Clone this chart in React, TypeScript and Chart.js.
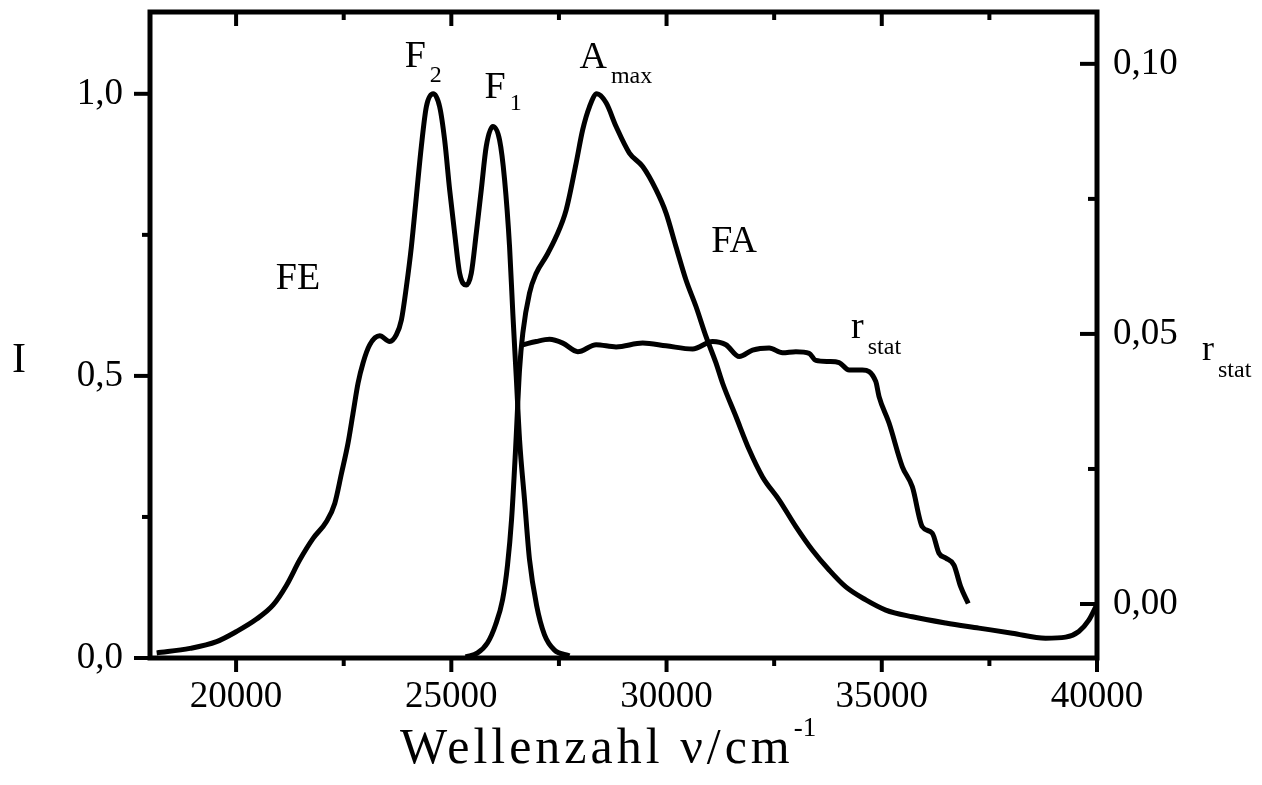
import { useEffect, useRef } from 'react';
import { Chart, registerables } from 'chart.js';

Chart.register(...registerables);

const SERIF = "'Liberation Serif', 'Times New Roman', serif";
const WIDTH = 1262;
const HEIGHT = 785;

// Fluorescence emission spectrum FE (left axis, normalised)
const feWavenumber = [
  18155, 18928, 19548, 20012, 20476, 20861, 21172, 21480, 21789, 22100,
  22292, 22448, 22601, 22717, 22833, 22949, 23104, 23336, 23568, 23724,
  23840, 23956, 24072, 24188, 24304, 24420, 24580, 24729, 24845, 24961,
  25077, 25193, 25348, 25464, 25580, 25696, 25812, 25965, 26121, 26237,
  26353, 26429, 26508, 26585, 26701, 26817, 26979, 27165, 27397, 27745,
];
const feIntensity = [
  0.009, 0.017, 0.029, 0.047, 0.069, 0.094, 0.129, 0.174, 0.212, 0.242,
  0.274, 0.327, 0.381, 0.434, 0.487, 0.523, 0.555, 0.571, 0.561, 0.573,
  0.599, 0.658, 0.729, 0.818, 0.907, 0.977, 1.0, 0.977, 0.918, 0.83,
  0.753, 0.682, 0.661, 0.682, 0.753, 0.83, 0.907, 0.942, 0.918, 0.848,
  0.729, 0.611, 0.499, 0.387, 0.28, 0.174, 0.094, 0.041, 0.014, 0.004,
];

// Absorption spectrum FA (left axis, normalised)
const faWavenumber = [
  25332, 25610, 25842, 26028, 26190, 26306, 26399, 26492, 26585, 26661,
  26817, 26972, 27204, 27436, 27667, 27899, 28051, 28209, 28380, 28596,
  28828, 29137, 29446, 29755, 29987, 30219, 30452, 30684, 30916, 31148,
  31302, 31612, 31921, 32230, 32617, 33004, 33390, 33777, 34165, 34629,
  35093, 35711, 36485, 37258, 38031, 38806, 39270, 39578, 39810, 40000,
];
const faIntensity = [
  0.002, 0.009, 0.027, 0.059, 0.103, 0.165, 0.245, 0.369, 0.511, 0.576,
  0.647, 0.682, 0.712, 0.747, 0.794, 0.877, 0.936, 0.977, 1.0, 0.984,
  0.942, 0.895, 0.871, 0.83, 0.789, 0.729, 0.67, 0.623, 0.57, 0.523,
  0.487, 0.428, 0.369, 0.321, 0.28, 0.233, 0.191, 0.156, 0.126, 0.103,
  0.085, 0.073, 0.062, 0.053, 0.044, 0.035, 0.037, 0.047, 0.067, 0.095,
];

// Stationary anisotropy r_stat (right axis)
const rWavenumber = [
  26661, 26972, 27281, 27590, 27938, 28364, 28828, 29446, 29987, 30606,
  31070, 31380, 31689, 31998, 32385, 32694, 33004, 33313, 33468, 33777,
  34009, 34241, 34550, 34860, 34937, 35169, 35478, 35710, 35942, 36174,
  36329, 36485, 36677, 36833, 37009,
];
const rValue = [
  0.048, 0.0486, 0.049, 0.0483, 0.0467, 0.048, 0.0476, 0.0483, 0.0478, 0.0472,
  0.0486, 0.048, 0.0458, 0.047, 0.0474, 0.0465, 0.0467, 0.0464, 0.0451, 0.0449,
  0.0447, 0.0433, 0.0433, 0.0412, 0.0384, 0.0335, 0.0254, 0.0217, 0.0143, 0.0131,
  0.0094, 0.0085, 0.0072, 0.0032, 0.0001,
];

// Axis ticks
const xTicks = [20000, 25000, 30000, 35000, 40000];
const xMinorTicks = [22500, 27500, 32500, 37500];
const leftTicks = [0, 0.5, 1.0];
const leftMinorTicks = [0.25, 0.75];
const rightTicks = [0, 0.05, 0.1];
const rightMinorTicks = [0.025, 0.075];

// Curve annotations: main text, subscript, anchor in data units (left axis)
const curveLabels = [
  { text: 'FE', sub: '', x: 20923, y: 0.654, subDy: 0 },
  { text: 'F', sub: '2', x: 23916, y: 1.048, subDy: 15 },
  { text: 'F', sub: '1', x: 25772, y: 0.993, subDy: 12 },
  { text: 'A', sub: 'max', x: 27977, y: 1.046, subDy: 15 },
  { text: 'FA', sub: '', x: 31039, y: 0.72, subDy: 0 },
  { text: 'r', sub: 'stat', x: 34288, y: 0.567, subDy: 16 },
];

const toPoints = (xs: number[], ys: number[]) => xs.map((x, i) => ({ x, y: ys[i] }));

const frameAndLabels = {
  id: 'frameAndLabels',
  afterDraw(chart: any) {
    const { ctx, chartArea } = chart;
    const { left, right, top, bottom } = chartArea;
    const sx = chart.scales.x;
    const sy = chart.scales.y;
    const sr = chart.scales.y1;
    ctx.save();
    ctx.strokeStyle = '#000';
    ctx.fillStyle = '#000';
    ctx.lineCap = 'butt';

    // ticks
    ctx.lineWidth = 4;
    const line = (x1: number, y1: number, x2: number, y2: number) => {
      ctx.beginPath();
      ctx.moveTo(x1, y1);
      ctx.lineTo(x2, y2);
      ctx.stroke();
    };
    xTicks.forEach((v) => {
      const p = sx.getPixelForValue(v);
      line(p, bottom, p, bottom + 14);
      line(p, top, p, top + 14);
    });
    xMinorTicks.forEach((v) => {
      const p = sx.getPixelForValue(v);
      line(p, bottom, p, bottom + 8);
      line(p, top, p, top + 8);
    });
    leftTicks.forEach((v) => {
      const p = sy.getPixelForValue(v);
      line(left - 16, p, left, p);
    });
    leftMinorTicks.forEach((v) => {
      const p = sy.getPixelForValue(v);
      line(left - 8, p, left, p);
    });
    rightTicks.forEach((v) => {
      const p = sr.getPixelForValue(v);
      line(right - 17, p, right, p);
    });
    rightMinorTicks.forEach((v) => {
      const p = sr.getPixelForValue(v);
      line(right - 9, p, right, p);
    });

    // frame
    ctx.lineWidth = 5;
    ctx.strokeRect(left, top, right - left, bottom - top);

    // curve annotations
    ctx.textAlign = 'left';
    ctx.textBaseline = 'alphabetic';
    curveLabels.forEach((l) => {
      const px = sx.getPixelForValue(l.x);
      const py = sy.getPixelForValue(l.y);
      ctx.font = `38px ${SERIF}`;
      ctx.fillText(l.text, px, py);
      if (l.sub) {
        const w = ctx.measureText(l.text).width;
        ctx.font = `24px ${SERIF}`;
        ctx.fillText(l.sub, px + w + 4, py + l.subDy);
      }
    });

    // left axis title
    ctx.font = `42px ${SERIF}`;
    ctx.fillText('I', 12, 372);

    // right axis title
    ctx.font = `36px ${SERIF}`;
    ctx.fillText('r', 1202, 360);
    const rw = ctx.measureText('r').width;
    ctx.font = `24px ${SERIF}`;
    ctx.fillText('stat', 1202 + rw + 4, 377);

    // x axis title with superscript exponent
    ctx.letterSpacing = '4px';
    ctx.font = `50px ${SERIF}`;
    const main = 'Wellenzahl \u03BD/cm';
    const mw = ctx.measureText(main).width;
    ctx.fillText(main, 400, 763);
    ctx.font = `27px ${SERIF}`;
    ctx.letterSpacing = '0px';
    ctx.fillText('-1', 400 + mw, 736);

    ctx.restore();
  },
};

// keep chart area exactly where the layout puts it (no extra label padding)
const noPadding = (s: any) => {
  s.paddingTop = 0;
  s.paddingBottom = 0;
  s.paddingLeft = 0;
  s.paddingRight = 0;
};

export default function App() {
  const canvasRef = useRef<HTMLCanvasElement | null>(null);

  useEffect(() => {
    const canvas = canvasRef.current;
    if (!canvas) return;
    const lineStyle = {
      borderColor: '#000',
      borderWidth: 5,
      pointRadius: 0,
      fill: false,
      cubicInterpolationMode: 'monotone' as const,
    };
    const tickFont = { family: SERIF, size: 37 };
    const chart = new Chart(canvas, {
      type: 'line',
      data: {
        datasets: [
          { ...lineStyle, label: 'FE', data: toPoints(feWavenumber, feIntensity), yAxisID: 'y' },
          { ...lineStyle, label: 'FA', data: toPoints(faWavenumber, faIntensity), yAxisID: 'y' },
          { ...lineStyle, label: 'r_stat', data: toPoints(rWavenumber, rValue), yAxisID: 'y1' },
        ],
      },
      options: {
        responsive: false,
        animation: false,
        devicePixelRatio: 1,
        layout: { padding: { top: 12, left: 0, right: 0, bottom: 0 } },
        plugins: { legend: { display: false }, tooltip: { enabled: false } },
        scales: {
          x: {
            type: 'linear',
            position: 'bottom',
            min: 18000,
            max: 40000,
            grid: { display: false, drawTicks: false },
            border: { display: false },
            afterBuildTicks: (s: any) => {
              s.ticks = xTicks.map((value) => ({ value }));
            },
            afterFit: (s: any) => {
              s.height = 127;
              noPadding(s);
            },
            ticks: {
              color: '#000',
              font: tickFont,
              padding: 17,
              maxRotation: 0,
              autoSkip: false,
              callback: (v: any) => String(v),
            },
          },
          y: {
            position: 'left',
            min: 0,
            max: 1.145,
            grid: { display: false, drawTicks: false },
            border: { display: false },
            afterBuildTicks: (s: any) => {
              s.ticks = leftTicks.map((value) => ({ value }));
            },
            afterFit: (s: any) => {
              s.width = 150;
              noPadding(s);
            },
            ticks: {
              color: '#000',
              font: tickFont,
              padding: 27,
              callback: (v: any) => Number(v).toFixed(1).replace('.', ','),
            },
          },
          y1: {
            position: 'right',
            min: -0.01,
            max: 0.1096,
            grid: { display: false, drawTicks: false },
            border: { display: false },
            afterBuildTicks: (s: any) => {
              s.ticks = rightTicks.map((value) => ({ value }));
            },
            afterFit: (s: any) => {
              s.width = 165;
              noPadding(s);
            },
            ticks: {
              color: '#000',
              font: tickFont,
              padding: 16,
              callback: (v: any) => Number(v).toFixed(2).replace('.', ','),
            },
          },
        },
      },
      plugins: [frameAndLabels],
    });
    return () => chart.destroy();
  }, []);

  return (
    <div style={{ position: 'fixed', left: 0, top: 0, width: WIDTH, height: HEIGHT, background: '#fff' }}>
      <canvas ref={canvasRef} width={WIDTH} height={HEIGHT} style={{ display: 'block', width: WIDTH, height: HEIGHT }} />
    </div>
  );
}
